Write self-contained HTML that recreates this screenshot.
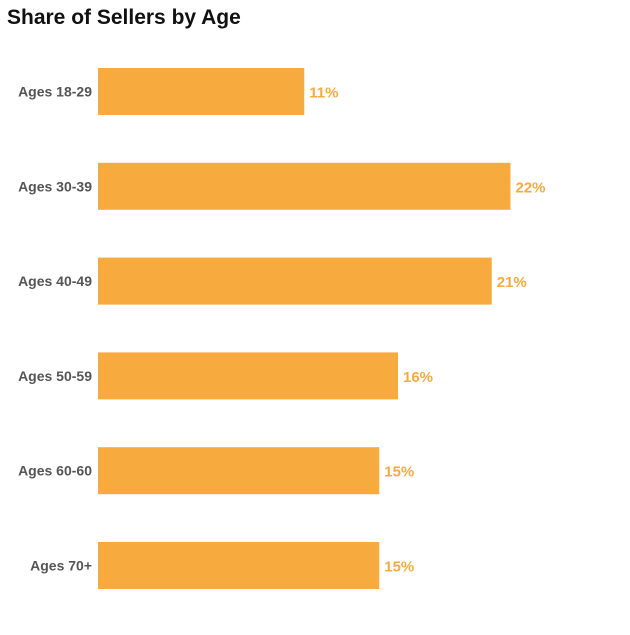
<!DOCTYPE html>
<html><head><meta charset="utf-8"><style>
body{margin:0;background:#fff;width:630px;height:630px;overflow:hidden;font-family:"Liberation Sans",sans-serif}
</style></head><body>
<svg id="chart" width="630" height="630" xmlns="http://www.w3.org/2000/svg">
<text x="7" y="24" font-size="21" font-weight="bold" fill="#111">Share of Sellers by Age</text>
<g id="bars"></g>
</svg>
<script>
const categories=["Ages 18-29","Ages 30-39","Ages 40-49","Ages 50-59","Ages 60-60","Ages 70+"];
const values=[11,22,21,16,15,15];
const valueLabels=["11%","22%","21%","16%","15%","15%"];
const x0=98, pxPer=18.75, barTop=68, step=94.8, bh=47;
const xs=v=>x0+v*pxPer;
const ys=i=>barTop+i*step;
const g=document.getElementById('bars');
const NS="http://www.w3.org/2000/svg";
categories.forEach((c,i)=>{
  const r=document.createElementNS(NS,'rect');
  
  
  r.setAttribute('x',x0);r.setAttribute('y',ys(i));
  r.setAttribute('width',xs(values[i])-x0);r.setAttribute('height',bh);
  r.setAttribute('fill','#f7ab3f');g.appendChild(r);
  const l=document.createElementNS(NS,'text');
  
  
  l.setAttribute('x',92);l.setAttribute('y',ys(i)+bh/2+5);
  l.setAttribute('text-anchor','end');l.setAttribute('font-size','14');
  l.setAttribute('font-weight','bold');l.setAttribute('fill','#555');
  l.textContent=c;g.appendChild(l);
  const v=document.createElementNS(NS,'text');
  
  
  v.setAttribute('x',xs(values[i])+5);v.setAttribute('y',ys(i)+bh/2+6);
  v.setAttribute('font-size','15');v.setAttribute('font-weight','bold');
  v.setAttribute('fill','#f7ab3f');
  v.textContent=valueLabels[i];g.appendChild(v);
});
</script>
</body></html>
